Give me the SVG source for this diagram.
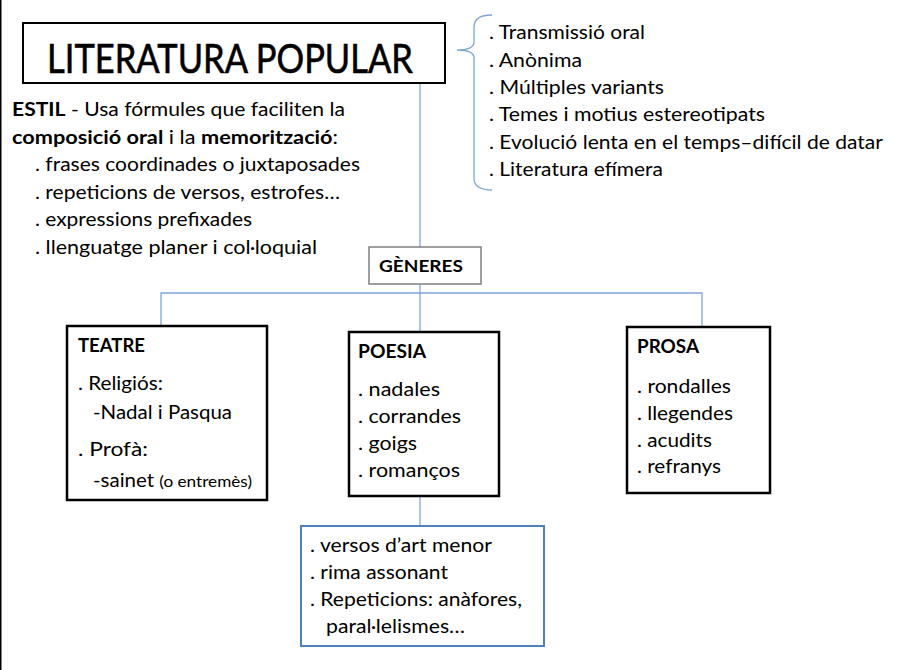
<svg xmlns="http://www.w3.org/2000/svg" width="906" height="670" viewBox="0 0 906 670">
<style>
text{font-family:Lato,"Open Sans","Liberation Sans",sans-serif;fill:#000;font-size:18.5px}
.b{font-weight:bold}
.box{fill:#fff;stroke:#000;stroke-width:2.5}
.conn{fill:none;stroke:#7FA6D6;stroke-width:1.3}
</style>
<rect x="0" y="0" width="906" height="670" fill="#fff"/>
<rect x="0" y="0" width="1.5" height="670" fill="#000"/>
<g id="connectors">
<line class="conn" x1="420" y1="83" x2="420" y2="247"/>
<line class="conn" x1="420" y1="284" x2="420" y2="332"/>
<polyline class="conn" points="161,326 161,293 702,293 702,327"/>
<line class="conn" x1="420" y1="496" x2="420" y2="526"/>
<path class="conn" d="M492,15 Q474,15 474,27 L474,42 Q474,50 457,50 Q474,50 474,58 L474,178 Q474,190 492,190"/>
</g>
<g id="title">
<rect x="23" y="23" width="422" height="60" fill="#fff" stroke="#000" stroke-width="2"/>
<text x="47" y="73" style="font-size:41px;stroke:#000;stroke-width:0.6" textLength="366" lengthAdjust="spacingAndGlyphs">LITERATURA POPULAR</text>
</g>
<g id="features">
<text x="489" y="39" textLength="156" lengthAdjust="spacingAndGlyphs">. Transmissió oral</text>
<text x="489" y="67" textLength="93" lengthAdjust="spacingAndGlyphs">. Anònima</text>
<text x="489" y="94" textLength="175" lengthAdjust="spacingAndGlyphs">. Múltiples variants</text>
<text x="489" y="121" textLength="276" lengthAdjust="spacingAndGlyphs">. Temes i motius estereotipats</text>
<text x="489" y="149" textLength="394" lengthAdjust="spacingAndGlyphs">. Evolució lenta en el temps–difícil de datar</text>
<text x="489" y="176" textLength="174" lengthAdjust="spacingAndGlyphs">. Literatura efímera</text>
</g>
<g id="estil">
<text x="12" y="116" textLength="333" lengthAdjust="spacingAndGlyphs"><tspan class="b">ESTIL</tspan> - Usa fórmules que faciliten la</text>
<text x="12" y="144" textLength="326" lengthAdjust="spacingAndGlyphs"><tspan class="b">composició oral</tspan> i la <tspan class="b">memorització</tspan>:</text>
<text x="35" y="171" textLength="325" lengthAdjust="spacingAndGlyphs">. frases coordinades o juxtaposades</text>
<text x="35" y="199" textLength="305" lengthAdjust="spacingAndGlyphs">. repeticions de versos, estrofes…</text>
<text x="35" y="226" textLength="217" lengthAdjust="spacingAndGlyphs">. expressions prefixades</text>
<text x="35" y="254" textLength="282" lengthAdjust="spacingAndGlyphs">. llenguatge planer i col·loquial</text>
</g>
<g id="generes">
<rect x="369" y="247" width="112" height="37" fill="#fff" stroke="#808080" stroke-width="1.5"/>
<text x="379" y="272" class="b" style="font-size:17.5px" textLength="84" lengthAdjust="spacingAndGlyphs">GÈNERES</text>
</g>
<g id="teatre">
<rect class="box" x="67" y="326" width="200" height="174"/>
<text x="78" y="352" class="b" textLength="67" lengthAdjust="spacingAndGlyphs">TEATRE</text>
<text x="78" y="390" textLength="85" lengthAdjust="spacingAndGlyphs">. Religiós:</text>
<text x="93" y="419" textLength="139" lengthAdjust="spacingAndGlyphs">-Nadal i Pasqua</text>
<text x="78" y="456" textLength="70" lengthAdjust="spacingAndGlyphs">. Profà:</text>
<text x="93" y="487" textLength="159" lengthAdjust="spacingAndGlyphs">-sainet <tspan style="font-size:15.5px">(o entremès)</tspan></text>
</g>
<g id="poesia">
<rect class="box" x="349" y="332" width="150" height="164"/>
<text x="358" y="358" class="b" textLength="68" lengthAdjust="spacingAndGlyphs">POESIA</text>
<text x="358" y="396" textLength="82" lengthAdjust="spacingAndGlyphs">. nadales</text>
<text x="358" y="423" textLength="103" lengthAdjust="spacingAndGlyphs">. corrandes</text>
<text x="358" y="450" textLength="59" lengthAdjust="spacingAndGlyphs">. goigs</text>
<text x="358" y="477" textLength="102" lengthAdjust="spacingAndGlyphs">. romanços</text>
</g>
<g id="prosa">
<rect class="box" x="627" y="327" width="143" height="166"/>
<text x="637" y="353" class="b" textLength="62" lengthAdjust="spacingAndGlyphs">PROSA</text>
<text x="637" y="393" textLength="94" lengthAdjust="spacingAndGlyphs">. rondalles</text>
<text x="637" y="420" textLength="96" lengthAdjust="spacingAndGlyphs">. llegendes</text>
<text x="637" y="447" textLength="75" lengthAdjust="spacingAndGlyphs">. acudits</text>
<text x="637" y="473" textLength="84" lengthAdjust="spacingAndGlyphs">. refranys</text>
</g>
<g id="poesia-trets">
<rect x="301" y="526" width="243" height="120" fill="#fff" stroke="#4F81BD" stroke-width="2"/>
<text x="310" y="552" textLength="182" lengthAdjust="spacingAndGlyphs">. versos d’art menor</text>
<text x="310" y="579" textLength="138" lengthAdjust="spacingAndGlyphs">. rima assonant</text>
<text x="310" y="606" textLength="212" lengthAdjust="spacingAndGlyphs">. Repeticions: anàfores,</text>
<text x="326" y="633" textLength="139" lengthAdjust="spacingAndGlyphs">paral·lelismes…</text>
</g>
</svg>
